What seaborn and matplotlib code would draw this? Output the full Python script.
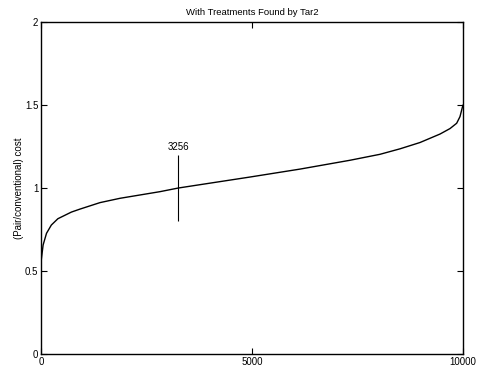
import matplotlib
matplotlib.use('Agg')
import matplotlib.pyplot as plt
import seaborn as sns
import pandas as pd

# valores (curva ordenada)
rank = [0, 10, 50, 130, 245, 400, 720, 924, 1398, 1872, 2346, 2820, 3256,
        3768, 4950, 6140, 7320, 8033, 8507, 8981, 9455, 9692, 9850, 9929,
        9984, 10000]
custo = [0.55, 0.575, 0.657, 0.727, 0.777, 0.815, 0.855, 0.873, 0.912, 0.938,
         0.958, 0.978, 1.0, 1.02, 1.066, 1.114, 1.167, 1.203, 1.236, 1.274,
         1.325, 1.358, 1.39, 1.43, 1.485, 1.5]

marca_x = 3256
marca_y = [0.8, 1.2]

df = pd.DataFrame({'rank': rank, 'custo': custo})

sns.set_style('ticks')
plt.rcParams['font.family'] = ['Liberation Sans', 'DejaVu Sans']
plt.rcParams['xtick.direction'] = 'in'
plt.rcParams['ytick.direction'] = 'in'
plt.rcParams['axes.edgecolor'] = 'black'
plt.rcParams['xtick.color'] = 'black'
plt.rcParams['ytick.color'] = 'black'
plt.rcParams['text.color'] = 'black'
plt.rcParams['axes.labelcolor'] = 'black'

fig = plt.figure(figsize=(4.78, 3.71), dpi=100)
ax = fig.add_axes([0.0858, 0.0458, 0.8828, 0.8949])

sns.lineplot(data=df, x='rank', y='custo', color='black', linewidth=1.0, ax=ax)
ax.vlines(marca_x, marca_y[0], marca_y[1], color='black', linewidth=0.8)
ax.text(marca_x, marca_y[1] + 0.015, str(marca_x), ha='center', va='bottom', fontsize=7)

ax.set_xlim(0, 10000)
ax.set_ylim(0, 2)
ax.set_xticks([0, 5000, 10000])
ax.set_yticks([0, 0.5, 1, 1.5, 2])
ax.set_xticklabels(['0', '5000', '10000'])
ax.set_yticklabels(['0', '0.5', '1', '1.5', '2'])
ax.tick_params(labelsize=7, length=4, width=0.8, top=True, right=True, pad=2)
for s in ax.spines.values():
    s.set_visible(True)
    s.set_linewidth(1.0)
ax.set_xlabel('')
ax.set_ylabel('(Pair/conventional) cost', fontsize=7, labelpad=0.5)
ax.set_title('With Treatments Found by Tar2', fontsize=6.8, pad=5)

fig.savefig('out.png', dpi=100)
